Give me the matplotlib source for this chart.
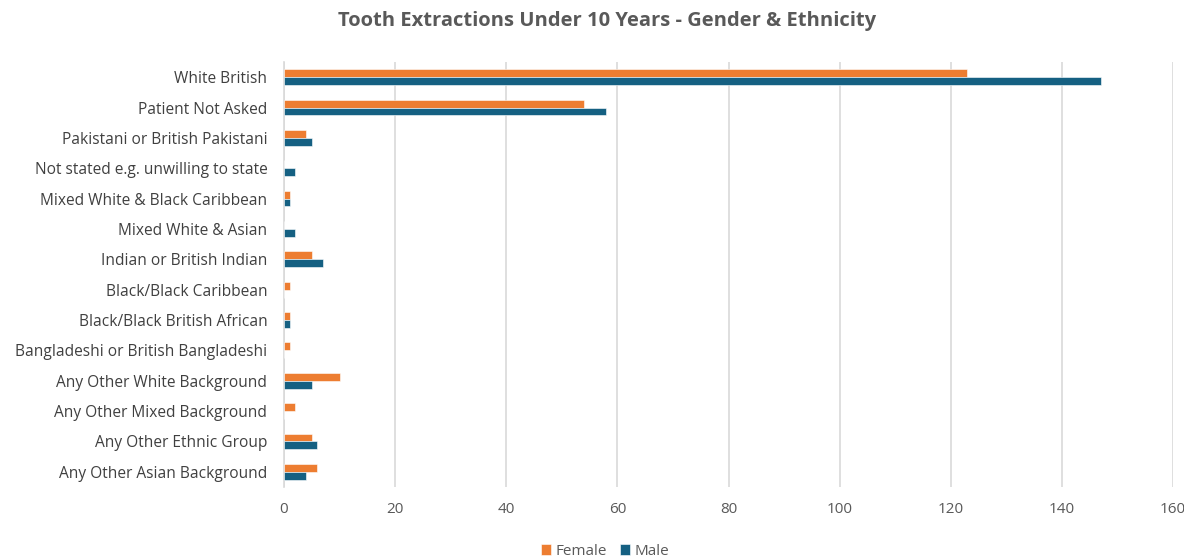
import matplotlib.pyplot as plt
import numpy as np

plt.rcParams['font.family'] = ['Open Sans', 'DejaVu Sans']

groups = [
    "White British",
    "Patient Not Asked",
    "Pakistani or British Pakistani",
    "Not stated e.g. unwilling to state",
    "Mixed White & Black Caribbean",
    "Mixed White & Asian",
    "Indian or British Indian",
    "Black/Black Caribbean",
    "Black/Black British African",
    "Bangladeshi or British Bangladeshi",
    "Any Other White Background",
    "Any Other Mixed Background",
    "Any Other Ethnic Group",
    "Any Other Asian Background",
]
female = [123, 54, 4, 0, 1, 0, 5, 1, 1, 1, 10, 2, 5, 6]
male = [147, 58, 5, 2, 1, 2, 7, 0, 1, 0, 5, 0, 6, 4]
xticks = [0, 20, 40, 60, 80, 100, 120, 140, 160]

fig = plt.figure(figsize=(11.84, 5.57), dpi=100)
ax = fig.add_axes([0.2399, 0.1257, 0.7508, 0.763])

# first group at the top
pos = np.arange(len(groups))[::-1]
h = 0.26
ax.barh(pos + h / 2, female, height=h, color="#ED7D31", label="Female",
        edgecolor="white", linewidth=0.4, zorder=3)
ax.barh(pos - h / 2, male, height=h, color="#156082", label="Male",
        edgecolor="white", linewidth=0.4, zorder=3)

ax.set_xlim(0, 160)
ax.set_ylim(-0.5, 13.5)
ax.set_yticks(pos)
ax.set_yticklabels(groups, fontsize=11.2, color="#404040")
ax.set_xticks(xticks)
ax.set_xticklabels([str(t) for t in xticks], fontsize=11, color="#595959")
ax.tick_params(axis="both", length=0)
ax.tick_params(axis="y", pad=12)
ax.tick_params(axis="x", pad=11)

ax.grid(axis="x", color="#d9d9d9", linewidth=1.2, zorder=0)
for s in ["top", "right", "bottom"]:
    ax.spines[s].set_visible(False)
ax.spines["left"].set_color("#d9d9d9")
ax.spines["left"].set_linewidth(1.2)

fig.suptitle("Tooth Extractions Under 10 Years - Gender & Ethnicity",
             x=0.5127, y=0.98, fontsize=14.5, fontweight="bold", color="#595959")

fig.legend(loc="lower center", bbox_to_anchor=(0.511, -0.028), ncol=2,
           frameon=False, fontsize=11, handlelength=0.7, handleheight=0.7,
           handletextpad=0.3, columnspacing=0.8, labelcolor="#595959")

fig.savefig("out.png", dpi=100)
